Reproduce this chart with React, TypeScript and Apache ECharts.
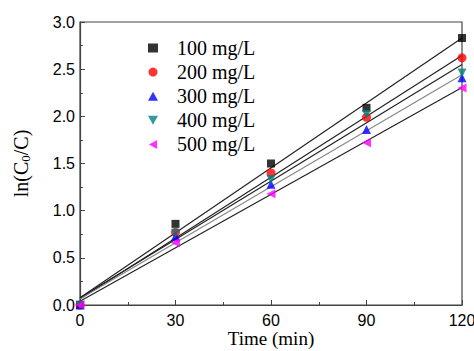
import React, { useEffect, useRef } from "react";
import * as echarts from "echarts";

const times = [0, 30, 60, 90, 120];
const seriesNames = ["100 mg/L", "200 mg/L", "300 mg/L", "400 mg/L", "500 mg/L"];
const s100 = [0, 0.86, 1.5, 2.09, 2.83];
const s200 = [0, 0.77, 1.4, 1.99, 2.62];
const s300 = [0, 0.73, 1.28, 1.86, 2.41];
const s400 = [0, 0.76, 1.33, 2.02, 2.46];
const s500 = [0, 0.66, 1.18, 1.72, 2.3];
// fitted line values at t = 0 and t = 120
const fitStart = [0.078, 0.064, 0.066, 0.078, 0.04];
const fitEnd = [2.83, 2.645, 2.44, 2.55, 2.305];
const fitRange = [0, 120];

const SERIF = "'Liberation Serif', 'Times New Roman', serif";
const SANS = "'Liberation Sans', Arial, sans-serif";

const colors = ["#000000", "#ff0000", "#0000ff", "#008080", "#ff00ff"];
const symbols = ["rect", "circle", "triangle", "path://M0,0 L10,0 L5,9 Z", "path://M9,0 L9,10 L0,5 Z"];
const fitColors = ["#222", "#222", "#888", "#222", "#222"];

export default function App() {
  const ref = useRef<HTMLDivElement>(null);
  useEffect(() => {
    const chart = echarts.init(ref.current!, undefined, { renderer: "svg" });
    const all = [s100, s200, s300, s400, s500];
    const scatter = all.map((vals, i) => ({
      name: seriesNames[i],
      type: "scatter",
      data: vals.map((v, j) => [times[j], v]),
      symbol: symbols[i],
      symbolSize: i === 0 ? 8 : 9,
      itemStyle: { color: colors[i] },
      clip: false,
      z: 3,
    }));
    const fits = all.map((_, i) => ({
      name: "fit" + i,
      type: "line",
      data: [
        [fitRange[0], fitStart[i]],
        [fitRange[1], fitEnd[i]],
      ],
      showSymbol: false,
      symbol: "none",
      lineStyle: { color: fitColors[i], width: 1.2 },
      z: 2,
      silent: true,
    }));
    chart.setOption({
      animation: false,
      grid: {
        left: 80,
        top: 22,
        right: 12,
        bottom: 46,
        show: true,
        borderColor: "#444",
        borderWidth: 1.2,
        outerBoundsMode: "none",
        containLabel: false,
      },
      legend: {
        data: seriesNames.map((n, i) => ({ name: n, icon: symbols[i] })),
        orient: "vertical",
        left: 143,
        top: 33,
        itemWidth: 10,
        itemHeight: 9,
        itemGap: 4.1,
        textStyle: {
          fontFamily: SERIF,
          fontSize: 20,
          color: "#000",
          padding: [0, 0, 0, 14],
        },
      },
      xAxis: {
        type: "value",
        min: 0,
        max: 120,
        interval: 30,
        name: "Time (min)",
        nameLocation: "middle",
        nameGap: 24,
        nameMoveOverlap: false,
        nameTextStyle: { fontFamily: SERIF, fontSize: 19, color: "#000" },
        axisLine: { lineStyle: { color: "#444", width: 1.2 } },
        axisTick: { inside: true, length: 5, lineStyle: { color: "#444" } },
        minorTick: { show: true, splitNumber: 2, length: 3, lineStyle: { color: "#444" } },
        axisLabel: { fontFamily: SANS, fontSize: 16, color: "#000", margin: 7 },
        splitLine: { show: false },
      },
      yAxis: {
        type: "value",
        min: 0,
        max: 3,
        interval: 0.5,
        name: "ln(C{sub|0}/C)",
        nameLocation: "middle",
        nameGap: 48,
        nameMoveOverlap: false,
        nameTextStyle: {
          fontFamily: SERIF,
          fontSize: 20,
          color: "#000",
          rich: {
            sub: { fontFamily: SERIF, fontSize: 13, verticalAlign: "bottom", padding: [10, 0, 0, 0] },
          },
        },
        axisLine: { lineStyle: { color: "#444", width: 1.2 } },
        axisTick: { inside: true, length: 5, lineStyle: { color: "#444" } },
        minorTick: { show: true, splitNumber: 2, length: 3, lineStyle: { color: "#444" } },
        axisLabel: {
          fontFamily: SANS,
          fontSize: 16,
          color: "#000",
          margin: 5,
          formatter: (v: number) => v.toFixed(1),
        },
        splitLine: { show: false },
      },
      series: [...fits, ...scatter],
    });
    return () => chart.dispose();
  }, []);
  return <div ref={ref} style={{ width: 474, height: 351, position: "absolute", left: 0, top: 0 }} />;
}
